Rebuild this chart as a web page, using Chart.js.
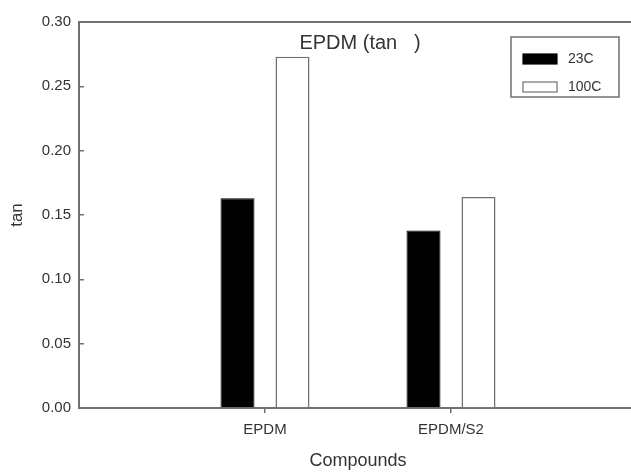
<!DOCTYPE html>
<html>
<head>
<meta charset="utf-8">
<script src="https://cdn.jsdelivr.net/npm/chart.js@4.4.1/dist/chart.umd.min.js"></script>
<style>
  html, body { margin: 0; padding: 0; overflow: hidden; background: #fff; }
  #wrap { width: 646px; height: 472px; }
</style>
</head>
<body>
<div id="wrap"><canvas id="chart" width="646" height="472"></canvas></div>
<script>
// data
const categories = ['EPDM', 'EPDM/S2'];
const seriesNames = ['23C', '100C'];
const values23C = [0.163, 0.138];
const values100C = [0.273, 0.164];
const yTicks = [0.00, 0.05, 0.10, 0.15, 0.20, 0.25, 0.30];

const chartTitle = 'EPDM (tan   )';
const xTitle = 'Compounds';
const yTitle = 'tan';

const FONT = "'Liberation Sans', Arial, sans-serif";
const AXIS = '#707070';
const TEXT = '#333';

// empty slots at both ends so the categories sit at 1/3 and 2/3 of the axis
const labels = [''].concat(categories, ['']);
const pad = arr => [null].concat(arr, [null]);

// frame top line + title inside plot
const frameAndTitle = {
    id: 'frameAndTitle',
    afterDraw(chart) {
        const { ctx, chartArea } = chart;
        ctx.save();
        ctx.strokeStyle = AXIS;
        ctx.lineWidth = 2;
        ctx.beginPath();
        ctx.moveTo(chartArea.left - 1, chartArea.top);
        ctx.lineTo(chartArea.right, chartArea.top);
        ctx.lineTo(chartArea.right, chartArea.bottom);
        ctx.stroke();

        ctx.fillStyle = TEXT;
        ctx.font = '20px ' + FONT;
        ctx.textAlign = 'center';
        ctx.textBaseline = 'middle';
        ctx.fillText(chartTitle, (chartArea.left + chartArea.right) / 2 + 2, chartArea.top + 21);
        ctx.restore();
    }
};

// boxed legend in the upper right corner of the plot
const legendBox = {
    id: 'legendBox',
    afterDraw(chart) {
        const { ctx, chartArea } = chart;
        const x = chartArea.right - 126;
        const y = chartArea.top + 15;
        ctx.save();
        ctx.strokeStyle = AXIS;
        ctx.lineWidth = 1.5;
        ctx.strokeRect(x, y, 108, 60);
        ctx.font = '14px ' + FONT;
        ctx.textBaseline = 'middle';
        ctx.textAlign = 'left';
        chart.data.datasets.forEach((ds, i) => {
            const sy = y + 17 + i * 28;
            ctx.fillStyle = ds.backgroundColor;
            ctx.fillRect(x + 12, sy, 34, 10);
            ctx.strokeStyle = ds.borderColor;
            ctx.lineWidth = 1.2;
            ctx.strokeRect(x + 12, sy, 34, 10);
            ctx.fillStyle = TEXT;
            ctx.fillText(ds.label, x + 57, sy + 5);
        });
        ctx.restore();
    }
};

new Chart(document.getElementById('chart'), {
    type: 'bar',
    data: {
        labels: labels,
        datasets: [
            {
                label: seriesNames[0],
                data: pad(values23C),
                backgroundColor: '#000000',
                borderColor: '#000000',
                borderWidth: 1
            },
            {
                label: seriesNames[1],
                data: pad(values100C),
                backgroundColor: '#ffffff',
                borderColor: AXIS,
                borderWidth: 1.5
            }
        ]
    },
    options: {
        responsive: false,
        animation: false,
        categoryPercentage: 0.5914,
        barPercentage: 0.618,
        // canvas is a bit wider than the window: the frame's right side is cut off, as in the picture
        layout: { padding: { top: 19, right: 9, left: 0, bottom: 0 } },
        plugins: {
            legend: { display: false },
            tooltip: { enabled: false }
        },
        scales: {
            x: {
                offset: false,
                afterFit: s => { s.height = 64; s.paddingLeft = 0; s.paddingRight = 0; },
                border: { color: AXIS, width: 2 },
                grid: {
                    offset: false,
                    drawOnChartArea: false,
                    tickLength: 5,
                    lineWidth: 1.5,
                    color: c => (labels[c.index] ? AXIS : 'rgba(0,0,0,0)')
                },
                ticks: {
                    color: TEXT,
                    font: { family: FONT, size: 15 },
                    padding: 8,
                    maxRotation: 0,
                    autoSkip: false
                },
                title: {
                    display: true,
                    text: xTitle,
                    color: TEXT,
                    font: { family: FONT, size: 18 },
                    padding: { top: 0, bottom: 0 }
                }
            },
            y: {
                min: 0,
                max: 0.3,
                afterFit: s => { s.width = 79; },
                afterBuildTicks: s => { s.ticks = yTicks.map(v => ({ value: v })); },
                border: { color: AXIS, width: 2 },
                grid: {
                    drawOnChartArea: false,
                    tickLength: -5,
                    lineWidth: 1.5,
                    color: AXIS
                },
                ticks: {
                    color: TEXT,
                    font: { family: FONT, size: 15 },
                    padding: 13,
                    callback: v => Number(v).toFixed(2)
                },
                title: {
                    display: true,
                    text: yTitle,
                    color: TEXT,
                    font: { family: FONT, size: 17 },
                    padding: { top: 7, bottom: 0 }
                }
            }
        }
    },
    plugins: [frameAndTitle, legendBox]
});
</script>
</body>
</html>
